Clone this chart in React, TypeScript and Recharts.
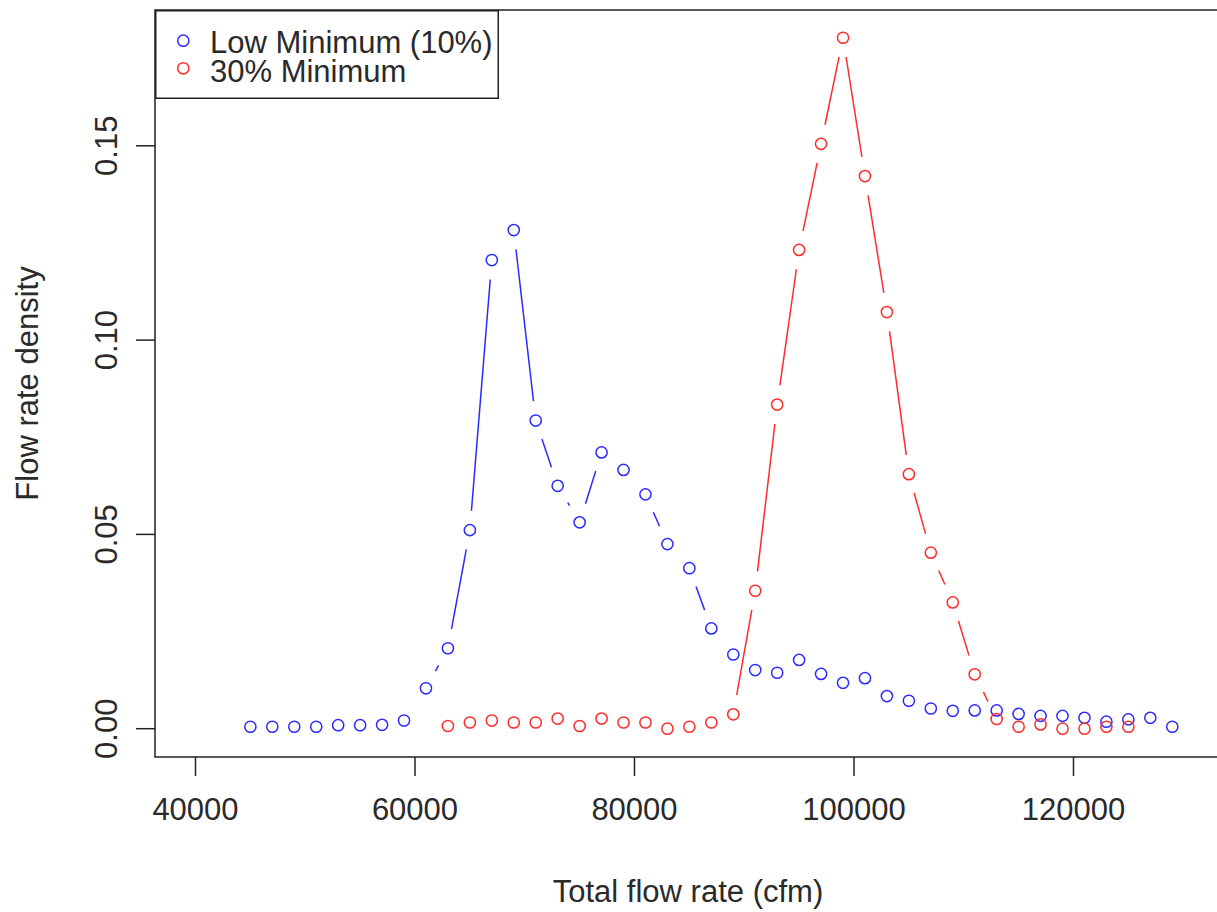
import React from "react";
import {
  Legend,
  Line,
  LineChart,
  ReferenceArea,
  XAxis,
  YAxis,
} from "recharts";

const lowX = [
  45000, 47000, 49000, 51000, 53000, 55000, 57000, 59000, 61000, 63000, 65000,
  67000, 69000, 71000, 73000, 75000, 77000, 79000, 81000, 83000, 85000, 87000,
  89000, 91000, 93000, 95000, 97000, 99000, 101000, 103000, 105000, 107000,
  109000, 111000, 113000, 115000, 117000, 119000, 121000, 123000, 125000,
  127000, 129000,
];
const lowY = [
  0.0005, 0.0005, 0.0005, 0.0005, 0.0009, 0.0009, 0.001, 0.0021, 0.0104,
  0.0207, 0.0511, 0.1206, 0.1283, 0.0793, 0.0625, 0.0531, 0.0711, 0.0666,
  0.0603, 0.0475, 0.0413, 0.0258, 0.0191, 0.0151, 0.0144, 0.0177, 0.0141,
  0.0118, 0.013, 0.0084, 0.0072, 0.0052, 0.0046, 0.0047, 0.0047, 0.0038,
  0.0033, 0.0033, 0.0028, 0.0018, 0.0024, 0.0028, 0.0005,
];

const minX = [
  63000, 65000, 67000, 69000, 71000, 73000, 75000, 77000, 79000, 81000, 83000,
  85000, 87000, 89000, 91000, 93000, 95000, 97000, 99000, 101000, 103000,
  105000, 107000, 109000, 111000, 113000, 115000, 117000, 119000, 121000,
  123000, 125000,
];
const minY = [
  0.0007, 0.0016, 0.0021, 0.0016, 0.0016, 0.0026, 0.0007, 0.0026, 0.0016,
  0.0016, 0.0, 0.0005, 0.0016, 0.0037, 0.0355, 0.0834, 0.1232, 0.1505, 0.1778,
  0.1422, 0.1072, 0.0655, 0.0453, 0.0325, 0.014, 0.0025, 0.0005, 0.0011, 0.0,
  0.0, 0.0005, 0.0005,
];

const xTicks = [40000, 60000, 80000, 100000, 120000];
const yTicks = [0, 0.05, 0.1, 0.15];
const yTickLabels = ["0.00", "0.05", "0.10", "0.15"];

const series = [
  { name: "Low Minimum (10%)", color: "#2b2bff", xs: lowX, ys: lowY },
  { name: "30% Minimum", color: "#ff2b2b", xs: minX, ys: minY },
];

const X_DOMAIN: [number, number] = [36310, 133440];
const Y_DOMAIN: [number, number] = [-0.00728, 0.18494];
const FONT = "'Liberation Sans', Arial, sans-serif";
const TEXT = "#2a2a2a";
const GAP = 19.5;

// R type="b": circle plus a line segment to the next point, cut short at both ends
function gappedDot(color: string) {
  return (props: any) => {
    const { cx, cy, index, points } = props;
    if (cx == null || cy == null) return <g key={`d-${index}`} />;
    let seg = null;
    const next = points && points[index + 1];
    if (next && next.x != null && next.y != null) {
      const dx = next.x - cx;
      const dy = next.y - cy;
      const len = Math.sqrt(dx * dx + dy * dy);
      if (len > 2 * GAP) {
        const ux = dx / len;
        const uy = dy / len;
        seg = (
          <line
            x1={cx + ux * GAP}
            y1={cy + uy * GAP}
            x2={next.x - ux * GAP}
            y2={next.y - uy * GAP}
            stroke={color}
            strokeWidth={1.5}
          />
        );
      }
    }
    return (
      <g key={`d-${index}`}>
        {seg}
        <circle cx={cx} cy={cy} r={5.6} fill="none" stroke={color} strokeWidth={1.5} />
      </g>
    );
  };
}

function LegendBox() {
  return (
    <svg width={344} height={89} style={{ display: "block" }}>
      <rect x={0.75} y={0.75} width={342.5} height={87.5} fill="#fff" stroke="#222" strokeWidth={1.5} />
      {series.map((s, i) => (
        <g key={s.name}>
          <circle cx={28.3} cy={30.7 + i * 27.6} r={5.6} fill="none" stroke={s.color} strokeWidth={1.5} />
          <text x={55} y={43.3 + i * 28.4} fontSize={31} fontFamily={FONT} fill={TEXT}>
            {s.name}
          </text>
        </g>
      ))}
    </svg>
  );
}

function YTick(props: any) {
  const { x, y, index } = props;
  return (
    <text
      x={x}
      y={y}
      transform={`rotate(-90 ${x} ${y})`}
      textAnchor="middle"
      fontSize={31}
      fontFamily={FONT}
      fill={TEXT}
    >
      {yTickLabels[index]}
    </text>
  );
}

export default function App() {
  return (
    <div style={{ width: 1217, height: 912, overflow: "hidden", background: "#fff" }}>
      <style>{"body{margin:0}"}</style>
      <LineChart
        width={1221}
        height={912}
        margin={{ top: 10, right: 0, bottom: 0, left: 0 }}
      >
        <XAxis
          dataKey="x"
          type="number"
          domain={X_DOMAIN}
          allowDataOverflow
          ticks={xTicks}
          axisLine={false}
          tickSize={19}
          tickMargin={22}
          tickLine={{ stroke: "#222", strokeWidth: 1.5 }}
          tick={{ fontSize: 31, fontFamily: FONT, fill: TEXT }}
          height={155}
          label={{
            content: (p: any) => (
              <text
                x={p.viewBox.x + p.viewBox.width / 2}
                y={p.viewBox.y + 145}
                textAnchor="middle"
                fontSize={31}
                fontFamily={FONT}
                fill={TEXT}
              >
                Total flow rate (cfm)
              </text>
            ),
          }}
        />
        <YAxis
          dataKey="y"
          type="number"
          domain={Y_DOMAIN}
          allowDataOverflow
          ticks={yTicks}
          axisLine={false}
          tickSize={19}
          tickMargin={19}
          tickLine={{ stroke: "#222", strokeWidth: 1.5 }}
          tick={<YTick />}
          width={155}
          label={{
            content: (p: any) => {
              const cx = 38;
              const cy = p.viewBox.y + p.viewBox.height / 2;
              return (
                <text
                  x={cx}
                  y={cy}
                  transform={`rotate(-90 ${cx} ${cy})`}
                  textAnchor="middle"
                  fontSize={31}
                  fontFamily={FONT}
                  fill={TEXT}
                >
                  Flow rate density
                </text>
              );
            },
          }}
        />
        <ReferenceArea
          x1={X_DOMAIN[0]}
          x2={X_DOMAIN[1]}
          y1={Y_DOMAIN[0]}
          y2={Y_DOMAIN[1]}
          fill="none"
          stroke="#222"
          strokeWidth={1.5}
          ifOverflow="visible"
        />
        {series.map((s) => (
          <Line
            key={s.name}
            name={s.name}
            data={s.xs.map((x, i) => ({ x, y: s.ys[i] }))}
            dataKey="y"
            stroke={s.color}
            strokeOpacity={0}
            dot={gappedDot(s.color)}
            activeDot={false}
            isAnimationActive={false}
          />
        ))}
        <Legend
          layout="vertical"
          align="center"
          verticalAlign="middle"
          content={<LegendBox />}
          wrapperStyle={{ position: "absolute", left: 155, top: 10, width: 344, height: 89 }}
        />
      </LineChart>
    </div>
  );
}
